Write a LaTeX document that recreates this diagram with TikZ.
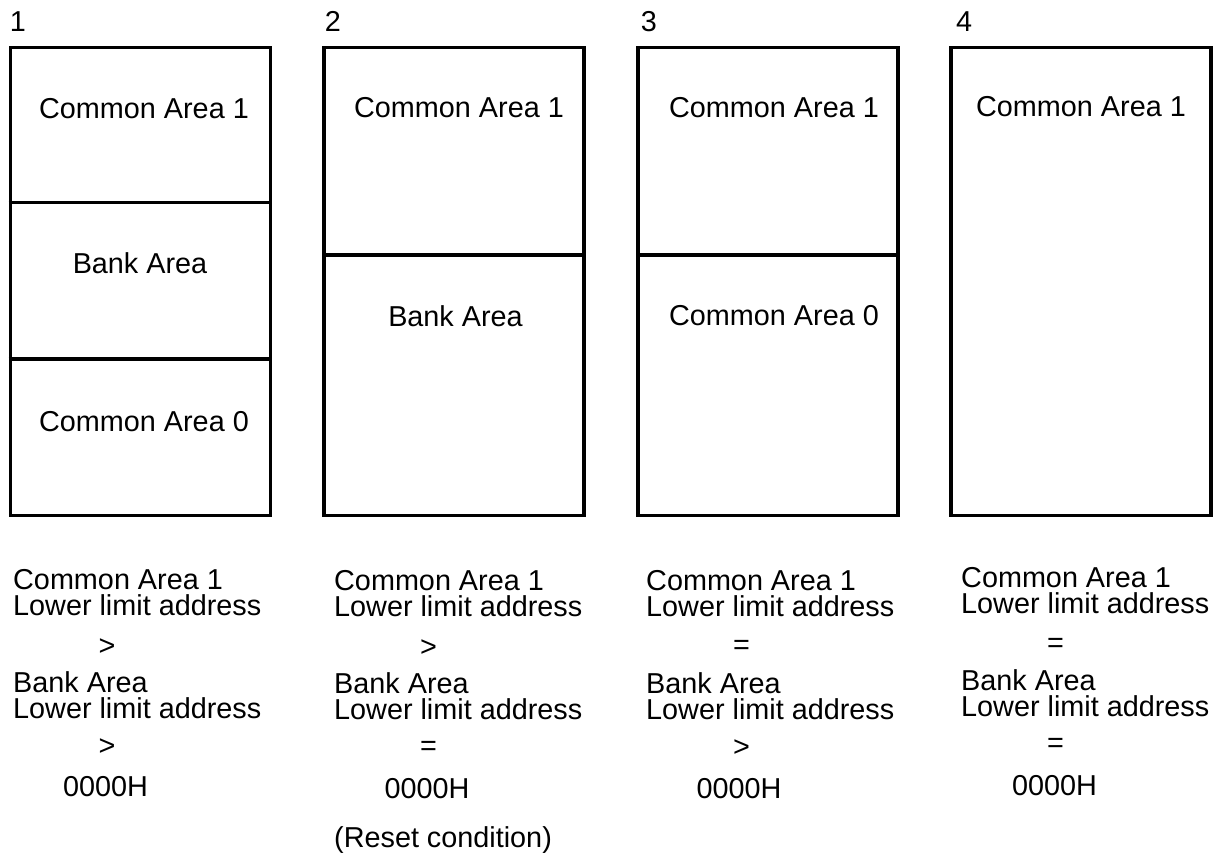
\documentclass[tikz,border=0pt]{standalone}
\usepackage{fontspec}
\setmainfont{Liberation Sans}
\begin{document}
\begin{tikzpicture}[x=1pt,y=-1pt,
  memblock/.style={draw=black,line width=3.8pt,rectangle,minimum width=260pt,minimum height=468pt,inner sep=0pt},
  divline/.style={draw=black,line width=3.8pt},
  lbl/.style={inner sep=0pt,text height=20pt,text depth=0pt,font=\fontsize{28.8}{26}\selectfont},
  lbll/.style={lbl,anchor=base west},
  lblc/.style={lbl,anchor=base},
  rel/.style={inner sep=0pt,anchor=center,font=\fontsize{28.8}{26}\selectfont}]
\useasboundingbox (0,0) rectangle (1216,856);
% boxes
\node[memblock] (b1) at (140.5,281.5) {};
\node[memblock] (b2) at (454.25,281.5) {};
\node[memblock] (b3) at (768.25,281.5) {};
\node[memblock] (b4) at (1081.25,281.5) {};
% divider coordinates
\coordinate (d1a) at (0,202.5);
\coordinate (d1b) at (0,359);
\coordinate (d2a) at (0,255);
\coordinate (d3a) at (0,255);
\draw[divline] (b1.west |- d1a) -- (b1.east |- d1a);
\draw[divline] (b1.west |- d1b) -- (b1.east |- d1b);
\draw[divline] (b2.west |- d2a) -- (b2.east |- d2a);
\draw[divline] (b3.west |- d3a) -- (b3.east |- d3a);
% numbers
\node[lblc] (n1) at (18,32) {1};
\node[lblc] (n2) at (333,32) {2};
\node[lblc] (n3) at (649,32) {3};
\node[lblc] (n4) at (964,32) {4};
% box texts
\node[lblc] (t1a) at (144,119) {Common Area 1};
\node[lblc] (t1b) at (140,273) {Bank Area};
\node[lblc] (t1c) at (144,431.5) {Common Area 0};
\node[lblc] (t2a) at (459,118) {Common Area 1};
\node[lblc] (t2b) at (455.5,326.5) {Bank Area};
\node[lblc] (t3a) at (774,118) {Common Area 1};
\node[lblc] (t3b) at (774,325) {Common Area 0};
\node[lblc] (t4a) at (1081,117) {Common Area 1};
% column 1 conditions
\node[lbll] (c1l1) at (13,589) {Common Area 1};
\node[lbll] (c1l2) at (13,615) {Lower limit address};
\node[rel]  (c1r1) at (107,647) {>};
\node[lbll] (c1l3) at (13,692) {Bank Area};
\node[lbll] (c1l4) at (13,718) {Lower limit address};
\node[rel]  (c1r2) at (107,747) {>};
\node[lblc] (c1z) at (105.5,796) {0000H};
% column 2 conditions
\node[lbll] (c2l1) at (334,590) {Common Area 1};
\node[lbll] (c2l2) at (334,616) {Lower limit address};
\node[rel]  (c2r1) at (428.5,648) {>};
\node[lbll] (c2l3) at (334,693) {Bank Area};
\node[lbll] (c2l4) at (334,719) {Lower limit address};
\node[rel]  (c2r2) at (428.5,748) {=};
\node[lblc] (c2z) at (427,798) {0000H};
\node[lbll] (c2rs) at (334,847) {(Reset condition)};
% column 3 conditions
\node[lbll] (c3l1) at (646,590) {Common Area 1};
\node[lbll] (c3l2) at (646,616) {Lower limit address};
\node[rel]  (c3r1) at (741.5,647) {=};
\node[lbll] (c3l3) at (646,693) {Bank Area};
\node[lbll] (c3l4) at (646,719) {Lower limit address};
\node[rel]  (c3r2) at (741.5,748) {>};
\node[lblc] (c3z) at (739,798) {0000H};
% column 4 conditions
\node[lbll] (c4l1) at (961,587) {Common Area 1};
\node[lbll] (c4l2) at (961,613) {Lower limit address};
\node[rel]  (c4r1) at (1055.5,645) {=};
\node[lbll] (c4l3) at (961,690) {Bank Area};
\node[lbll] (c4l4) at (961,716) {Lower limit address};
\node[rel]  (c4r2) at (1055.5,745) {=};
\node[lblc] (c4z) at (1054.5,795) {0000H};
\end{tikzpicture}
\end{document}
